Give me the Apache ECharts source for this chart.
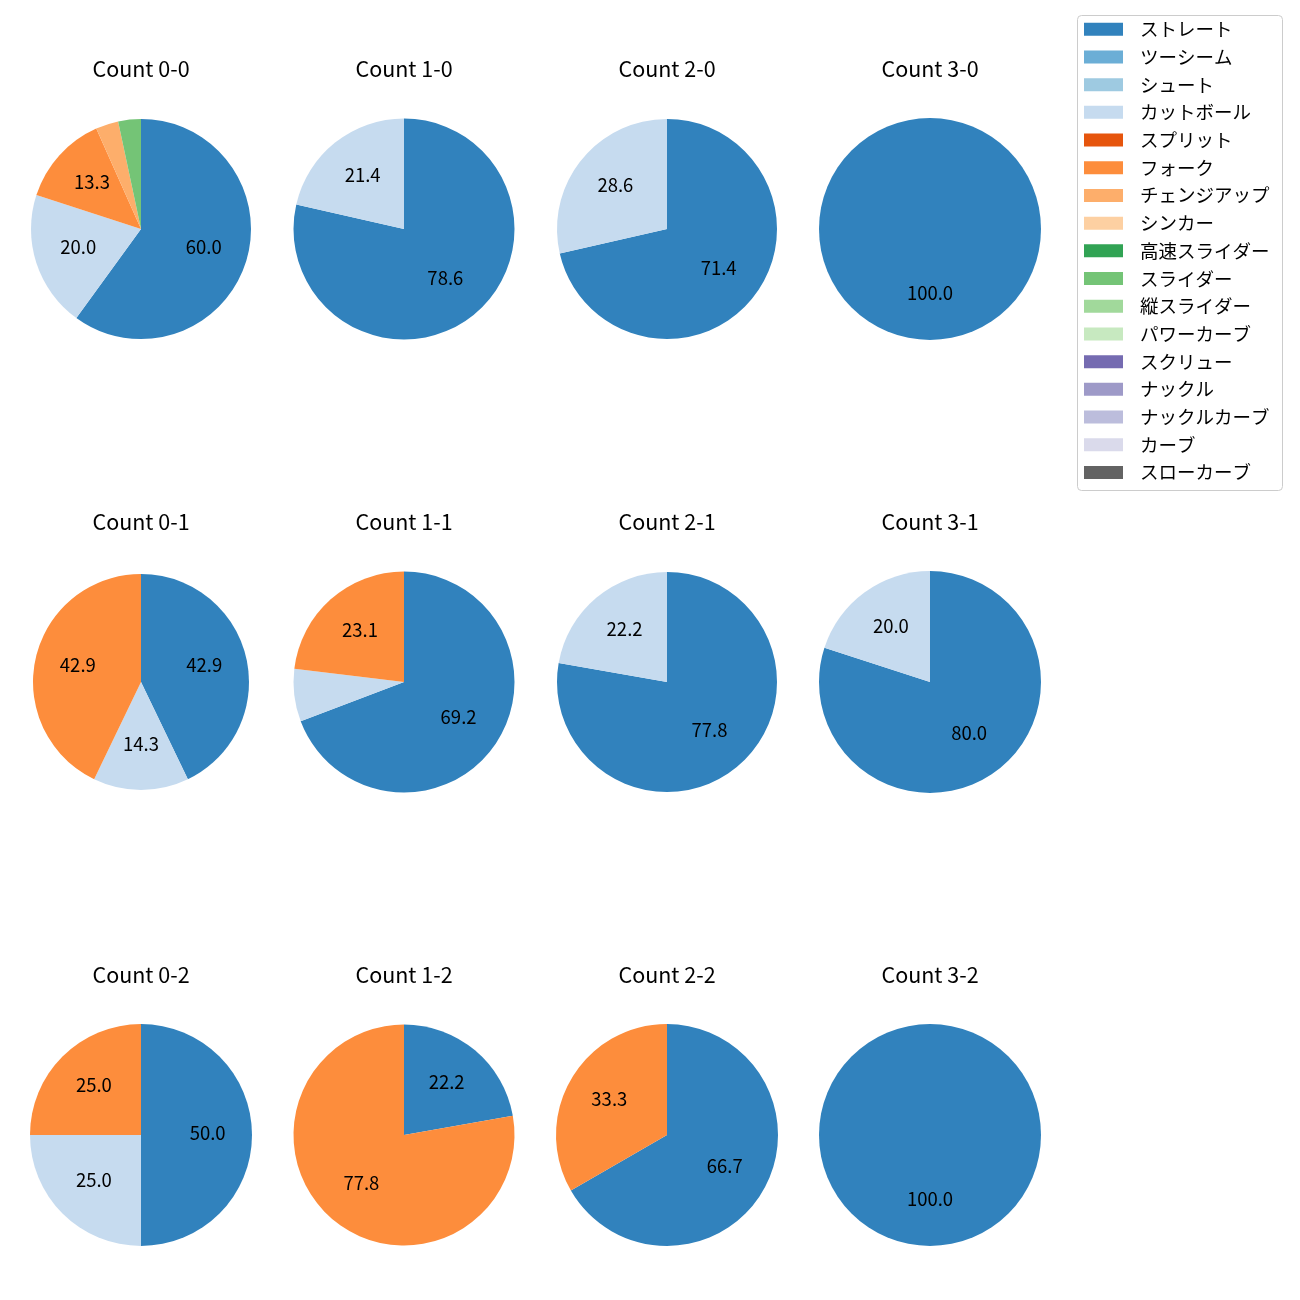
<!DOCTYPE html>
<html>
<head>
<meta charset="utf-8">
<script src="https://cdn.jsdelivr.net/npm/echarts@6/dist/echarts.min.js"></script>
<style>html,body{margin:0;padding:0;background:#fff;}#main{width:1300px;height:1300px;}</style>
</head>
<body>
<div id="main"></div>
<script>
const categories = ['ストレート','ツーシーム','シュート','カットボール','スプリット','フォーク','チェンジアップ','シンカー','高速スライダー','スライダー','縦スライダー','パワーカーブ','スクリュー','ナックル','ナックルカーブ','カーブ','スローカーブ'];
const palette = ['#3182bd','#6baed6','#9ecae1','#c6dbef','#e6550d','#fd8d3c','#fdae6b','#fdd0a2','#31a354','#74c476','#a1d99b','#c7e9c0','#756bb1','#9e9ac8','#bcbddc','#dadaeb','#636363'];

const countTitles = ['Count 0-0','Count 1-0','Count 2-0','Count 3-0','Count 0-1','Count 1-1','Count 2-1','Count 3-1','Count 0-2','Count 1-2','Count 2-2','Count 3-2'];

// pitch counts per category (same order as categories)
const count00 = [18,0,0,6,0,4,1,0,0,1,0,0,0,0,0,0,0];
const count10 = [11,0,0,3,0,0,0,0,0,0,0,0,0,0,0,0,0];
const count20 = [5,0,0,2,0,0,0,0,0,0,0,0,0,0,0,0,0];
const count30 = [1,0,0,0,0,0,0,0,0,0,0,0,0,0,0,0,0];
const count01 = [3,0,0,1,0,3,0,0,0,0,0,0,0,0,0,0,0];
const count11 = [9,0,0,1,0,3,0,0,0,0,0,0,0,0,0,0,0];
const count21 = [7,0,0,2,0,0,0,0,0,0,0,0,0,0,0,0,0];
const count31 = [4,0,0,1,0,0,0,0,0,0,0,0,0,0,0,0,0];
const count02 = [2,0,0,1,0,1,0,0,0,0,0,0,0,0,0,0,0];
const count12 = [2,0,0,0,0,7,0,0,0,0,0,0,0,0,0,0,0];
const count22 = [2,0,0,0,0,1,0,0,0,0,0,0,0,0,0,0,0];
const count32 = [1,0,0,0,0,0,0,0,0,0,0,0,0,0,0,0,0];
const allCounts = [count00,count10,count20,count30,count01,count11,count21,count31,count02,count12,count22,count32];

// layout
const colX = [141, 404, 667, 930];
const rowY = [229, 682, 1135];
const radii = [110,110.5,110,111, 108,110.5,110,111, 111,110.5,111,111];
const titleOffset = 160;
const FONT = 'Noto Sans CJK JP';

const series = [];
const graphics = [];
allCounts.forEach((vals, k) => {
  const cx = colX[k % 4], cy = rowY[Math.floor(k / 4)], R = radii[k];
  const total = vals.reduce((a, b) => a + b, 0);
  series.push({
    type: 'pie', center: [cx, cy], radius: [0, R], startAngle: 90, clockwise: true,
    silent: true, animation: false, label: {show: false}, labelLine: {show: false},
    itemStyle: {borderWidth: 0},
    data: categories.map((n, i) => ({name: n, value: vals[i], itemStyle: {color: palette[i]}}))
  });
  series.push({
    type: 'pie', center: [cx, cy], radius: [R * 0.2 - 6, R], startAngle: 90, clockwise: true,
    silent: true, animation: false, labelLine: {show: false},
    itemStyle: {color: 'rgba(0,0,0,0)', borderWidth: 0},
    label: {
      position: 'inside', color: '#000', fontFamily: FONT, fontSize: 18.5, offset: [0, -2.5],
      formatter: p => { const pct = p.value / total * 100; return pct >= 10 ? pct.toFixed(1) : ''; }
    },
    data: vals.map(v => ({value: v}))
  });
  graphics.push({
    type: 'text', x: cx, y: cy - titleOffset,
    style: {text: countTitles[k], fill: '#000', font: '21.5px "' + FONT + '"', textAlign: 'center', textVerticalAlign: 'middle'}
  });
});

graphics.push({
  type: 'rect', shape: {x: 1077.5, y: 15.5, width: 205, height: 475, r: 4},
  style: {fill: '#fff', stroke: '#cccccc', lineWidth: 1}, z: -1
});

const option = {
  backgroundColor: '#fff',
  animation: false,
  graphic: graphics,
  legend: {
    orient: 'vertical', left: 1084, top: 20, padding: 0,
    itemWidth: 39, itemHeight: 13, itemGap: 9.2,
    icon: 'rect', selectedMode: false,
    data: categories,
    textStyle: {fontFamily: FONT, fontSize: 18.5, lineHeight: 18, color: '#000', padding: [0, 0, 0, 12]}
  },
  series: series
};
const chart = echarts.init(document.getElementById('main'));
chart.setOption(option);
</script>
</body>
</html>
